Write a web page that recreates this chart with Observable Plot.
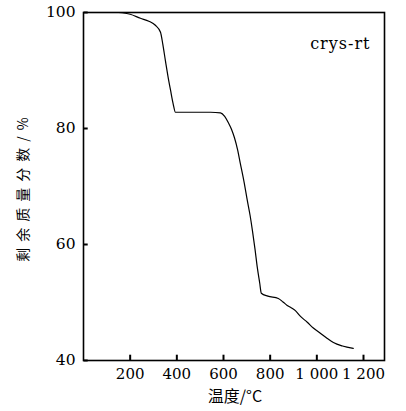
<!DOCTYPE html>
<html>
<head>
<meta charset="utf-8">
<script src="https://cdn.jsdelivr.net/npm/d3@7"></script>
<script src="https://cdn.jsdelivr.net/npm/@observablehq/plot@0.6"></script>
<style>
body { margin: 0; background: #fff; }
.ylab text { letter-spacing: 6px; }
.series text { letter-spacing: 1px; }
</style>
</head>
<body>
<div id="chart"></div>
<script>
const temperature = [150, 200, 244, 280, 308, 330, 340, 351, 362, 373, 384, 394, 420, 480, 544, 587, 605, 621, 635, 647, 660, 672, 688, 702, 714, 724, 735, 745, 755, 762, 790, 835, 855, 873, 890, 908, 930, 959, 985, 1015, 1045, 1071, 1110, 1156];
const massPct =     [100, 99.7, 99.0, 98.5, 97.8, 96.6, 94.5, 91.7, 89.0, 86.6, 84.3, 82.8, 82.8, 82.8, 82.8, 82.7, 82.1, 81.0, 79.8, 78.4, 76.4, 74.0, 70.8, 67.6, 65.0, 62.4, 59.2, 56.0, 53.4, 51.6, 51.1, 50.7, 50.1, 49.5, 49.1, 48.6, 47.6, 46.6, 45.6, 44.7, 43.8, 43.1, 42.5, 42.1];
const xTicks = [200, 400, 600, 800, 1000, 1200];
const xTickLabels = ["200", "400", "600", "800", "1 000", "1 200"];
const yTicks = [40, 60, 80, 100];
const seriesLabel = "crys-rt";
const xLabel = "温度/°C";
const yLabel = "剩余质量分数/%";

const data = temperature.map((t, i) => ({t, m: massPct[i]}));
const serif = "DejaVu Serif";
const cjk = "Noto Sans CJK SC";
const W = 406, H = 411, ML = 83, MR = 22, MT = 12, MB = 51;

const chart = Plot.plot({
  width: W,
  height: H,
  marginLeft: ML,
  marginRight: MR,
  marginTop: MT,
  marginBottom: MB,
  style: {fontSize: "15px", color: "#000", background: "#fff"},
  x: {domain: [0, 1290]},
  y: {domain: [40, 100]},
  marks: [
    Plot.axisX(xTicks, {tickSize: 0, tickPadding: 8, tickFormat: d => xTickLabels[xTicks.indexOf(d)], label: null, fontSize: 15, fontFamily: serif}),
    Plot.axisY(yTicks, {tickSize: 0, tickPadding: 8, label: null, fontSize: 15.5, fontFamily: serif}),
    Plot.frame({stroke: "#000", strokeWidth: 1.6}),
    Plot.line(data, {x: "t", y: "m", stroke: "#000", strokeWidth: 1.2, curve: "monotone-x"}),
    Plot.link(xTicks, {x1: d => d, x2: d => d, y1: () => 40, y2: () => 41, stroke: "#000", strokeWidth: 2}),
    Plot.link(yTicks, {y1: d => d, y2: d => d, x1: () => 0, x2: () => 18, stroke: "#000", strokeWidth: 2}),
    Plot.text([seriesLabel], {frameAnchor: "top-right", dx: -14, dy: 25, textAnchor: "end", fontSize: 16, fill: "#000", fontFamily: serif, className: "series"}),
    Plot.text([xLabel], {frameAnchor: "bottom", dx: 1, dy: 41, fontSize: 16, fill: "#000", fontFamily: cjk}),
    Plot.text([yLabel], {frameAnchor: "left", textAnchor: "middle", dx: -60, rotate: -90, fontSize: 14, fill: "#000", fontFamily: cjk, className: "ylab"})
  ]
});
document.getElementById("chart").appendChild(chart);
</script>
</body>
</html>
